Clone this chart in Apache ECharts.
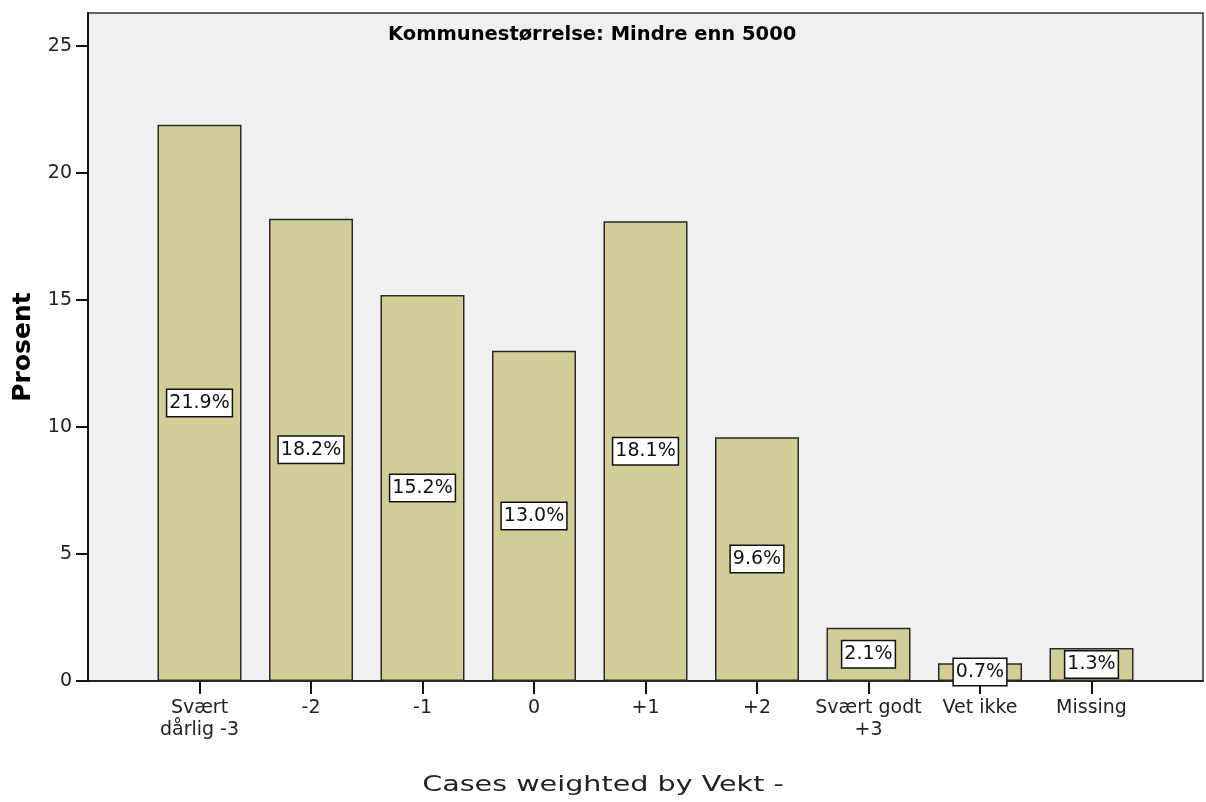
<!DOCTYPE html>
<html>
<head>
<meta charset="utf-8">
<script src="https://cdn.jsdelivr.net/npm/echarts@6/dist/echarts.min.js"></script>
<style>
html,body{margin:0;padding:0;background:#fff;}
#main{width:1206px;height:802px;}
</style>
</head>
<body>
<div id="main"></div>
<script>
var categories = ["Svært\ndårlig -3", "-2", "-1", "0", "+1", "+2", "Svært godt\n+3", "Vet ikke", "Missing"];
var values = [21.9, 18.2, 15.2, 13.0, 18.1, 9.6, 2.1, 0.7, 1.3];
var yTicks = [0, 5, 10, 15, 20, 25];
var xPositions = [1, 2, 3, 4, 5, 6, 7, 8, 9];

var barData = values.map(function (v, i) { return [xPositions[i], v]; });

var option = {
    backgroundColor: "#fff",
    animation: false,
    graphic: [
        {
            type: "text",
            x: 388,
            y: 35,
            style: {
                text: "Kommunestørrelse: Mindre enn 5000",
                font: "bold 19.5px 'DejaVu Sans'",
                fill: "#000",
                textAlign: "left",
                textVerticalAlign: "middle"
            }
        },
        {
            type: "text",
            x: 603,
            y: 785,
            scaleX: 1.3,
            style: {
                text: "Cases weighted by Vekt -",
                font: "22px 'DejaVu Sans'",
                fill: "#222",
                textAlign: "center",
                textVerticalAlign: "middle"
            }
        }
    ],
    grid: {
        left: 88,
        top: 13,
        right: 3,
        bottom: 121,
        containLabel: false,
        outerBoundsMode: "none",
        show: true,
        backgroundColor: "#f0f0f0",
        borderColor: "#333",
        borderWidth: 1.5
    },
    xAxis: {
        type: "value",
        min: 0,
        max: 10,
        interval: 1,
        splitLine: { show: false },
        axisLine: { show: true, lineStyle: { color: "#111", width: 1.5 } },
        axisTick: {
            show: true,
            customValues: xPositions,
            length: 13,
            lineStyle: { color: "#111", width: 2 }
        },
        axisLabel: {
            customValues: xPositions,
            margin: 16,
            fontFamily: "DejaVu Sans",
            fontSize: 19,
            lineHeight: 22,
            color: "#222",
            formatter: function (v) { return categories[v - 1] || ""; }
        }
    },
    yAxis: {
        type: "value",
        min: 0,
        max: 26.3,
        interval: 5,
        name: "Prosent",
        nameLocation: "middle",
        nameGap: 52,
        nameRotate: 90,
        nameTextStyle: {
            fontFamily: "DejaVu Sans",
            fontWeight: "bold",
            fontSize: 25,
            color: "#000"
        },
        splitLine: { show: false },
        axisLine: { show: true, lineStyle: { color: "#111", width: 2 } },
        axisTick: {
            show: true,
            customValues: yTicks,
            length: 12,
            lineStyle: { color: "#111", width: 2 }
        },
        axisLabel: {
            customValues: yTicks,
            margin: 16,
            fontFamily: "DejaVu Sans",
            fontSize: 19,
            color: "#222"
        }
    },
    series: [{
        type: "bar",
        data: barData,
        barWidth: 84,
        itemStyle: {
            color: "#d3ce98",
            borderColor: "#2a2a2a",
            borderWidth: 1.5
        },
        label: {
            show: true,
            position: "inside",
            formatter: function (p) { return p.value[1].toFixed(1) + "%"; },
            fontFamily: "DejaVu Sans",
            fontSize: 19,
            lineHeight: 22,
            color: "#111",
            backgroundColor: "#fff",
            borderColor: "#111",
            borderWidth: 1.5,
            padding: [2, 2, 2, 2]
        }
    }]
};

var chart = echarts.init(document.getElementById("main"));
chart.setOption(option);
</script>
</body>
</html>
